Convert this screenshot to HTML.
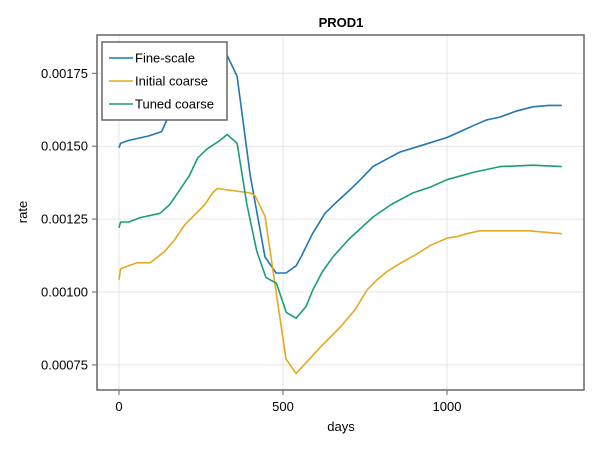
<!DOCTYPE html>
<html><head><meta charset="utf-8"><style>
body{margin:0;background:#fff;font-family:"Liberation Sans",sans-serif}
svg text{font-family:"Liberation Sans",sans-serif}
</style></head><body>
<svg id="chart" width="600" height="450" viewBox="0 0 600 450">
<rect width="600" height="450" fill="#fff"/>
<g id="grid"></g>
<g id="series"></g>
<rect x="97" y="35" width="487" height="355" fill="none" stroke="#666" stroke-width="1.5"/>
<g id="ticks"></g>
<text x="341" y="27" text-anchor="middle" font-size="13" font-weight="bold">PROD1</text>
<text x="341" y="431" text-anchor="middle" font-size="13">days</text>
<text transform="translate(27,212) rotate(-90)" text-anchor="middle" font-size="13">rate</text>
<g id="legend">
<rect x="102" y="42" width="125" height="78" fill="#fff" stroke="#666" stroke-width="1.5"/>
</g>
</svg>
<script>
const xTicks=[0,500,1000];
const yTicks=[0.00075,0.001,0.00125,0.0015,0.00175];
const yTickLabels=["0.00075","0.00100","0.00125","0.00150","0.00175"];
const seriesNames=["Fine-scale","Initial coarse","Tuned coarse"];
const fineDays=[0,5,30,90,130,150,200,250,300,326,360,400,445,479,509,540,555,590,628,665,704,740,774,815,857,930,1000,1040,1079,1120,1162,1210,1262,1310,1350];
const fineVals=[0.001495,0.00151,0.00152,0.001535,0.00155,0.0016,0.00168,0.00176,0.00181,0.00182,0.00174,0.0014,0.00112,0.001065,0.001065,0.00109,0.00112,0.0012,0.00127,0.00131,0.00135,0.00139,0.00143,0.001455,0.00148,0.001505,0.00153,0.00155,0.00157,0.00159,0.0016,0.00162,0.001635,0.00164,0.00164];
const initDays=[0,5,30,55,95,140,170,200,262,285,300,400,415,445,509,540,613,675,720,756,785,817,860,908,950,1000,1030,1061,1100,1140,1250,1350];
const initVals=[0.001042,0.00108,0.00109,0.0011,0.0011,0.00114,0.00118,0.00123,0.0013,0.00134,0.001355,0.00134,0.00133,0.00126,0.00077,0.00072,0.00081,0.00088,0.00094,0.001007,0.00104,0.00107,0.0011,0.00113,0.00116,0.001185,0.00119,0.0012,0.00121,0.00121,0.00121,0.0012];
const tunedDays=[0,5,30,65,125,155,185,215,240,268,308,330,360,390,420,448,480,510,540,570,591,620,652,700,774,830,896,950,1000,1080,1162,1262,1350];
const tunedVals=[0.00122,0.00124,0.00124,0.001255,0.00127,0.0013,0.00135,0.0014,0.00146,0.00149,0.00152,0.00154,0.00151,0.0013,0.00114,0.00105,0.00103,0.00093,0.00091,0.00095,0.001007,0.00107,0.00112,0.00118,0.001257,0.0013,0.00134,0.00136,0.001385,0.00141,0.00143,0.001435,0.00143];
const colors=["#1f77b4","#e6a91f","#1a9e77"];
const NS="http://www.w3.org/2000/svg";
const X=d=>119+d*(164/500);
const Y=v=>292-(v-0.001)*(72.9/0.00025);
const grid=document.getElementById('grid'),ticks=document.getElementById('ticks'),ser=document.getElementById('series'),leg=document.getElementById('legend');
function mk(tag,attrs,parent){const e=document.createElementNS(NS,tag);for(const k in attrs)e.setAttribute(k,attrs[k]);parent.appendChild(e);return e;}
xTicks.forEach(t=>{
 const g=mk('line',{x1:X(t),x2:X(t),y1:35,y2:390,stroke:'#e5e5e5'},grid);
 
 
 const tk=mk('line',{x1:X(t),x2:X(t),y1:390,y2:395,stroke:'#666'},ticks);
 
 
 const l=mk('text',{x:X(t),y:411,'text-anchor':'middle','font-size':'13'},ticks);
 l.textContent=t;
 
 
});
yTicks.forEach((t,i)=>{
 const g=mk('line',{x1:97,x2:584,y1:Y(t),y2:Y(t),stroke:'#e5e5e5'},grid);
 
 
 const tk=mk('line',{x1:92,x2:97,y1:Y(t),y2:Y(t),stroke:'#666'},ticks);
 
 
 const l=mk('text',{x:88,y:Y(t)+4.5,'text-anchor':'end','font-size':'13'},ticks);
 l.textContent=yTickLabels[i];
 
 
});
[[fineDays,fineVals],[initDays,initVals],[tunedDays,tunedVals]].forEach((s,i)=>{
 const pts=s[0].map((d,j)=>X(d).toFixed(1)+','+Y(s[1][j]).toFixed(1)).join(' ');
 const p=mk('polyline',{points:pts,fill:'none',stroke:colors[i],'stroke-width':'1.6','stroke-linejoin':'round'},ser);
 
 
 const y=58+i*23;
 const ll=mk('line',{x1:109,x2:133,y1:y,y2:y,stroke:colors[i],'stroke-width':'1.6'},leg);
 
 
 const lt=mk('text',{x:135,y:y+4.5,'font-size':'13'},leg);
 lt.textContent=seriesNames[i];
 
 
});
</script>
</body></html>
